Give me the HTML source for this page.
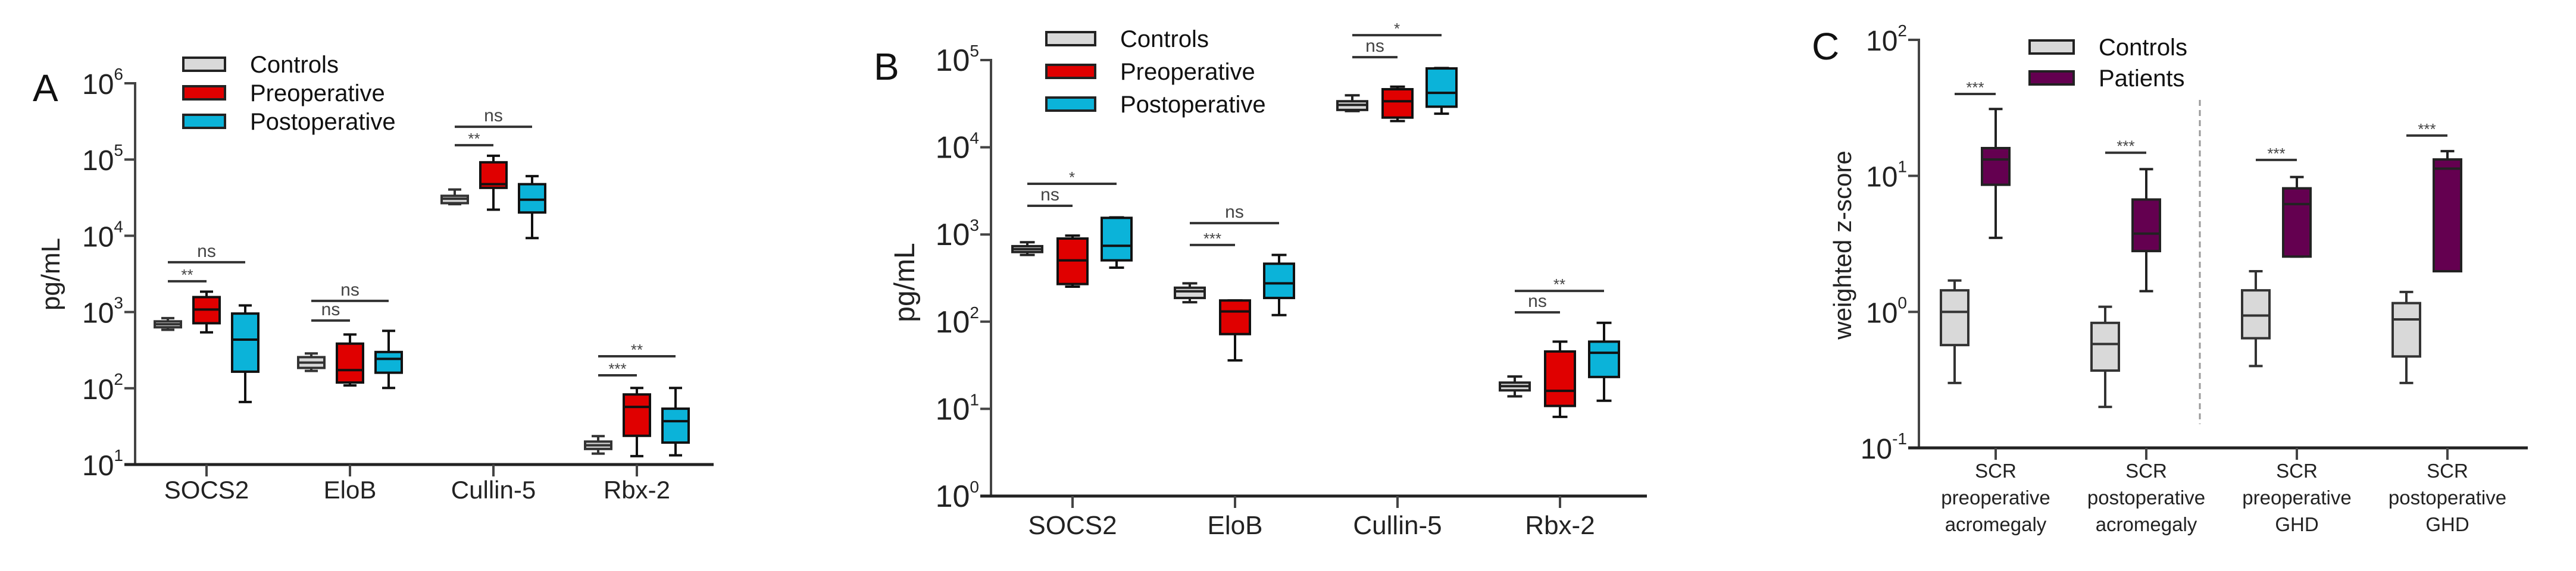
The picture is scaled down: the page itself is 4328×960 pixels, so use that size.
<!DOCTYPE html>
<html><head><meta charset="utf-8"><title>Box plots</title>
<style>
html,body{margin:0;padding:0;background:#fff;}
svg{display:block;font-family:"Liberation Sans",Arial,sans-serif;}
</style></head>
<body>
<svg id="fig" width="4328" height="960" viewBox="0 0 4328 960" xmlns="http://www.w3.org/2000/svg"></svg>
<script>
// ---------- Panel A data: [min, q1, median, q3, max] (pg/mL) ----------
const A_categories = ["SOCS2","EloB","Cullin-5","Rbx-2"];
const A_controls = [[585,631,692,754,832],[169,185,217,256,286],[26000,26800,30600,33400,40400],[13.9,16,17.9,20,23.6]];
const A_preop    = [[541,713,1080,1570,1850],[109,119,173,385,507],[22000,42500,47500,92000,112000],[12.9,23.8,57,83,101]];
const A_postop   = [[66,165,435,955,1220],[101,160,243,299,566],[9330,20200,29700,47500,60500],[13.2,19.4,37,54,101]];
const A_tickExp = [1,2,3,4,5,6];
// significance: [category, from group, to group, height value, label]
const A_sig = [[0,0,2,4500,"ns"],[0,0,1,2530,"**"],[1,0,2,1400,"ns"],[1,0,1,773,"ns"],[2,0,2,269000,"ns"],[2,0,1,154000,"**"],[3,0,2,263,"**"],[3,0,1,148,"***"]];

// ---------- Panel B data ----------
const B_categories = ["SOCS2","EloB","Cullin-5","Rbx-2"];
const B_controls = [[582,629,679,734,815],[167,187,223,245,275],[26000,26800,30600,33700,39400],[13.9,16.3,18.2,20,23.5]];
const B_preop    = [[252,270,505,898,970],[36,72,131,175,175],[20000,21900,33700,46300,49500],[8.1,10.8,16.1,45.5,59]];
const B_postop   = [[416,505,741,1550,1570],[119,187,275,462,582],[24300,29200,42100,80200,81000],[12.4,23.2,44,59,97]];
const B_tickExp = [0,1,2,3,4,5];
const B_sig = [[0,0,2,3810,"*"],[0,0,1,2130,"ns"],[1,0,2,1350,"ns"],[1,0,1,757,"***"],[2,0,2,193000,"*"],[2,0,1,108000,"ns"],[3,0,2,225,"**"],[3,0,1,128,"ns"]];

// ---------- Panel C data: weighted z-score ----------
const C_categories = [["SCR","preoperative","acromegaly"],["SCR","postoperative","acromegaly"],["SCR","preoperative","GHD"],["SCR","postoperative","GHD"]];
const C_controls = [[0.30,0.57,1.0,1.44,1.7],[0.20,0.37,0.58,0.83,1.09],[0.40,0.64,0.94,1.44,1.99],[0.30,0.47,0.88,1.16,1.40]];
const C_patients = [[3.5,8.6,13.2,16,31],[1.42,2.8,3.76,6.7,11.2],[2.55,2.55,6.2,8.1,9.8],[1.99,1.99,11.3,13.2,15.2]];
const C_tickExp = [-1,0,1,2];
const C_sig = [[0,0,1,40,"***"],[1,0,1,14.8,"***"],[2,0,1,13.1,"***"],[3,0,1,19.8,"***"]];

const NS = "http://www.w3.org/2000/svg";
const svg = document.getElementById("fig");
function mk(tag, attrs, parent){
  const e = document.createElementNS(NS, tag);
  for (const k in attrs) e.setAttribute(k, attrs[k]);
  (parent||svg).appendChild(e);
  return e;
}
function txt(s, attrs, parent){ const t = mk("text", attrs, parent); t.textContent = s; return t; }

function drawPanel(p){
  const g = mk("g", {});
  
  
  const y = v => p.yBottom - (Math.log10(v) - p.logMin) / (p.logMax - p.logMin) * (p.yBottom - p.yTop);
  const cx = (c, gi) => p.catX0 + c * p.catStep + p.offsets[gi];
  const L = txt(p.letter, {x:p.letterX, y:p.letterY, "font-size":64, fill:"#111"}, g);
  
  
  const ya = mk("line", {x1:p.axisX, y1:p.yTop-2, x2:p.axisX, y2:p.yBottom, stroke:"#444", "stroke-width":4}, g);
  
  
  p.ticks.forEach(e => {
    const ty = y(Math.pow(10, e));
    const tk = mk("line", {x1:p.axisX-18, y1:ty, x2:p.axisX, y2:ty, stroke:"#444", "stroke-width":4}, g);
    
    
    const tl = mk("text", {x:p.axisX-20, y:ty+18, "font-size":p.tickSize, fill:"#222", "text-anchor":"end"}, g);
    
    
    const a = document.createElementNS(NS, "tspan"); a.textContent = "10"; tl.appendChild(a);
    const b = document.createElementNS(NS, "tspan"); b.textContent = String(e);
    b.setAttribute("font-size", 28); b.setAttribute("dy", -24); tl.appendChild(b);
  });
  const xa = mk("line", {x1:p.axisX-18, y1:p.yBottom, x2:p.xEnd, y2:p.yBottom, stroke:"#222", "stroke-width":5}, g);
  
  
  p.categories.forEach((c, i) => {
    const x = p.catX0 + i * p.catStep;
    const tk = mk("line", {x1:x, y1:p.yBottom, x2:x, y2:p.yBottom+20, stroke:"#444", "stroke-width":4}, g);
    
    
    const lines = Array.isArray(c) ? c : [c];
    lines.forEach((s, li) => {
      const t = txt(s, {x:x, y:p.labelY + li*p.labelLH, "font-size":p.labelSize, fill:"#222", "text-anchor":"middle"}, g);
      
      
    });
  });
  const yt = txt(p.yTitle, {x:0, y:0, "font-size":p.yTitleSize, fill:"#222", "text-anchor":"middle",
    transform:`translate(${p.yTitleX},${p.yTitleY}) rotate(-90)`}, g);
  
  
  if (p.divider){
    const d = mk("line", {x1:p.divider, y1:p.divY1, x2:p.divider, y2:p.divY2, stroke:"#999", "stroke-width":3, "stroke-dasharray":"10,7"}, g);
    
    
  }
  p.series.forEach((ser, gi) => {
    ser.data.forEach((d, ci) => {
      const x = cx(ci, gi), w = p.boxW, cw = p.boxW * 0.5;
      const bg = mk("g", {}, g);
      
      
      const sc = ser.stroke;
      mk("line", {x1:x, y1:y(d[4]), x2:x, y2:y(d[3]), stroke:sc, "stroke-width":4}, bg);
      mk("line", {x1:x, y1:y(d[1]), x2:x, y2:y(d[0]), stroke:sc, "stroke-width":4}, bg);
      mk("line", {x1:x-cw/2, y1:y(d[4]), x2:x+cw/2, y2:y(d[4]), stroke:sc, "stroke-width":4}, bg);
      mk("line", {x1:x-cw/2, y1:y(d[0]), x2:x+cw/2, y2:y(d[0]), stroke:sc, "stroke-width":4}, bg);
      mk("rect", {x:x-w/2, y:y(d[3]), width:w, height:Math.max(2, y(d[1]) - y(d[3])), fill:ser.fill, stroke:sc, "stroke-width":4}, bg);
      mk("line", {x1:x-w/2, y1:y(d[2]), x2:x+w/2, y2:y(d[2]), stroke:sc, "stroke-width":4}, bg);
    });
  });
  p.sig.forEach(s => {
    const x1 = cx(s[0], s[1]), x2 = cx(s[0], s[2]), sy = y(s[3]);
    const sl = mk("line", {x1:x1, y1:sy, x2:x2, y2:sy, stroke:"#333", "stroke-width":4}, g);
    
    
    const st = txt(s[4], {x:(x1+x2)/2, y:sy - (s[4]==="ns" ? 9 : 2), "font-size":s[4]==="ns"?30:26, fill:"#444", "text-anchor":"middle"}, g);
    
    
  });
  p.series.forEach((ser, i) => {
    const lg = mk("g", {}, g);
    
    
    const ly = p.legY + i * p.legStep;
    mk("rect", {x:p.legX, y:ly, width:p.legW, height:22, fill:ser.fill, stroke:"#222", "stroke-width":4}, lg);
    txt(ser.label, {x:p.legX + p.legW + 42, y:ly + 25, "font-size":40, fill:"#111"}, lg);
  });
}

const GRAY = "#d9d9d9", RED = "#e00000", CYAN = "#0bb3d9", PURPLE = "#640050";

drawPanel({name:"panel-a", letter:"A", letterX:55, letterY:170, axisX:227, yTop:140, yBottom:781, logMin:1, logMax:6,
  ticks:A_tickExp, tickSize:48, xEnd:1199, catX0:347, catStep:241, offsets:[-65,0,65], boxW:44, categories:A_categories,
  labelY:838, labelLH:0, labelSize:42, yTitle:"pg/mL", yTitleSize:44, yTitleX:100, yTitleY:461,
  series:[{key:"controls",label:"Controls",fill:GRAY,stroke:"#333",data:A_controls},
          {key:"preoperative",label:"Preoperative",fill:RED,stroke:"#111",data:A_preop},
          {key:"postoperative",label:"Postoperative",fill:CYAN,stroke:"#111",data:A_postop}],
  sig:A_sig, legX:308, legY:97, legStep:48, legW:70});

drawPanel({name:"panel-b", letter:"B", letterX:1468, letterY:134, axisX:1665, yTop:101, yBottom:834, logMin:0, logMax:5,
  ticks:B_tickExp, tickSize:52, xEnd:2767, catX0:1802, catStep:273, offsets:[-76,0,74], boxW:50, categories:B_categories,
  labelY:898, labelLH:0, labelSize:44, yTitle:"pg/mL", yTitleSize:48, yTitleX:1536, yTitleY:475,
  series:[{key:"controls",label:"Controls",fill:GRAY,stroke:"#222",data:B_controls},
          {key:"preoperative",label:"Preoperative",fill:RED,stroke:"#111",data:B_preop},
          {key:"postoperative",label:"Postoperative",fill:CYAN,stroke:"#111",data:B_postop}],
  sig:B_sig, legX:1758, legY:54, legStep:55, legW:82});

drawPanel({name:"panel-c", letter:"C", letterX:3044, letterY:100, axisX:3224, yTop:67, yBottom:753, logMin:-1, logMax:2,
  ticks:C_tickExp, tickSize:48, xEnd:4247, catX0:3353, catStep:253, offsets:[-69,0], boxW:46, categories:C_categories,
  labelY:803, labelLH:45, labelSize:33, yTitle:"weighted z-score", yTitleSize:42, yTitleX:3110, yTitleY:412,
  divider:3696, divY1:168, divY2:713,
  series:[{key:"controls",label:"Controls",fill:GRAY,stroke:"#333",data:C_controls},
          {key:"patients",label:"Patients",fill:PURPLE,stroke:"#222",data:C_patients}],
  sig:C_sig, legX:3410, legY:68, legStep:52, legW:74});
</script>
</body></html>
